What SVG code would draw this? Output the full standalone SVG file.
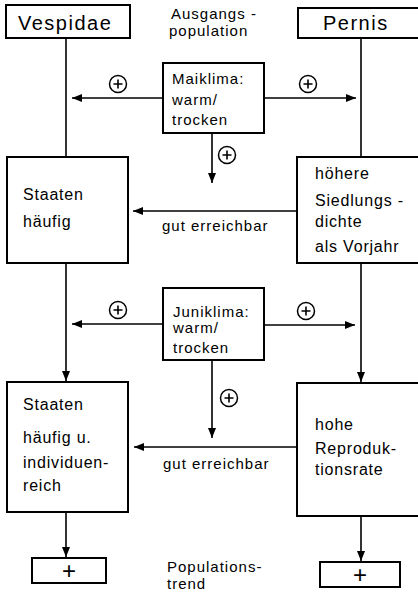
<svg xmlns="http://www.w3.org/2000/svg" width="418" height="599" viewBox="0 0 418 599">
  <style>
    .box { fill: #fff; stroke: #000; stroke-width: 2; }
    .open { fill: #fff; stroke: #000; stroke-width: 2; }
    .ln { fill: none; stroke: #000; stroke-width: 1.6; }
    .t { font-family: "Liberation Sans", Arial, Helvetica, sans-serif; font-size: 15px; letter-spacing: 1px; fill: #000; }
    .n { font-family: "Liberation Sans", Arial, Helvetica, sans-serif; font-size: 16px; letter-spacing: 0.8px; fill: #000; }
    .big { font-family: "Liberation Sans", Arial, Helvetica, sans-serif; font-size: 20px; letter-spacing: 1.5px; fill: #000; }
    .pl { font-family: "Liberation Sans", Arial, Helvetica, sans-serif; font-size: 24px; fill: #000; text-anchor: middle; }
    .circ { fill: #fff; stroke: #000; stroke-width: 1.5; }
  </style>
  <defs>
    <marker id="arrow" markerUnits="userSpaceOnUse" markerWidth="10" markerHeight="10" viewBox="0 0 10 10" refX="10" refY="5" orient="auto">
      <path d="M0,1 L10,5 L0,9 Z" fill="#000"/>
    </marker>
    <g id="plus-sign">
      <circle class="circ" r="8.5"/>
      <path d="M-4.5,0 H4.5 M0,-4.5 V4.5" stroke="#000" stroke-width="1.6"/>
    </g>
  </defs>

  <!-- connectors -->
  <g id="connectors">
    <!-- Vespidae column -->
    <line class="ln" x1="66" y1="38" x2="66" y2="157"/>
    <line class="ln" x1="66" y1="263" x2="66" y2="381" marker-end="url(#arrow)"/>
    <line class="ln" x1="66" y1="512" x2="66" y2="557" marker-end="url(#arrow)"/>
    <!-- Pernis column -->
    <line class="ln" x1="361" y1="38" x2="361" y2="157"/>
    <line class="ln" x1="361" y1="263" x2="361" y2="382" marker-end="url(#arrow)"/>
    <line class="ln" x1="361" y1="516" x2="361" y2="561" marker-end="url(#arrow)"/>
    <!-- May climate -->
    <line class="ln" x1="163" y1="98" x2="72" y2="98" marker-end="url(#arrow)"/>
    <line class="ln" x1="264" y1="98" x2="356" y2="98" marker-end="url(#arrow)"/>
    <line class="ln" x1="212" y1="133" x2="212" y2="183" marker-end="url(#arrow)"/>
    <!-- June climate -->
    <line class="ln" x1="163" y1="324" x2="72" y2="324" marker-end="url(#arrow)"/>
    <line class="ln" x1="264" y1="325" x2="355" y2="325" marker-end="url(#arrow)"/>
    <line class="ln" x1="212" y1="360" x2="212" y2="438" marker-end="url(#arrow)"/>
    <!-- reachability -->
    <line class="ln" x1="297" y1="211" x2="133" y2="211" marker-end="url(#arrow)"/>
    <line class="ln" x1="297" y1="447" x2="134" y2="447" marker-end="url(#arrow)"/>
    <text class="t" x="162" y="231">gut erreichbar</text>
    <text class="t" x="163" y="469">gut erreichbar</text>
    <use href="#plus-sign" x="118" y="84"/>
    <use href="#plus-sign" x="308" y="84"/>
    <use href="#plus-sign" x="227" y="155"/>
    <use href="#plus-sign" x="118" y="310"/>
    <use href="#plus-sign" x="306" y="311"/>
    <use href="#plus-sign" x="229" y="398"/>
  </g>

  <!-- header nodes -->
  <g id="vespidae">
    <rect class="box" x="6" y="5" width="124" height="33"/>
    <text class="big" x="18" y="30">Vespidae</text>
  </g>
  <g id="pernis">
    <path class="open" d="M420,8 H298 V38 H420"/>
    <text class="big" x="323" y="30">Pernis</text>
  </g>
  <g id="ausgangspopulation">
    <text class="t" x="171" y="19">Ausgangs -</text>
    <text class="t" x="169" y="36">population</text>
  </g>

  <g id="maiklima">
    <rect class="box" x="163" y="63" width="101" height="70"/>
    <text class="t" x="172" y="84">Maiklima:</text>
    <text class="t" x="172" y="105">warm/</text>
    <text class="t" x="172" y="125">trocken</text>
  </g>

  <g id="staaten-haeufig">
    <rect class="box" x="7" y="157" width="121" height="106"/>
    <text class="n" x="23" y="200">Staaten</text>
    <text class="n" x="23" y="227">häufig</text>
  </g>

  <g id="siedlungsdichte">
    <path class="open" d="M420,157 H297 V263 H420"/>
    <text class="n" x="315" y="179">höhere</text>
    <text class="n" x="315" y="206">Siedlungs -</text>
    <text class="n" x="315" y="227">dichte</text>
    <text class="n" x="315" y="252">als Vorjahr</text>
  </g>

  <g id="juniklima">
    <rect class="box" x="163" y="288" width="101" height="72"/>
    <text class="t" x="173" y="317">Juniklima:</text>
    <text class="t" x="173" y="333">warm/</text>
    <text class="t" x="173" y="353">trocken</text>
  </g>

  <g id="staaten-individuenreich">
    <rect class="box" x="7" y="382" width="121" height="130"/>
    <text class="n" x="23" y="410">Staaten</text>
    <text class="n" x="23" y="443">häufig u.</text>
    <text class="n" x="23" y="468">individuen-</text>
    <text class="n" x="23" y="491">reich</text>
  </g>

  <g id="reproduktionsrate">
    <path class="open" d="M420,383 H297 V516 H420"/>
    <text class="n" x="315" y="430">hohe</text>
    <text class="n" x="315" y="454">Reproduk-</text>
    <text class="n" x="315" y="475">tionsrate</text>
  </g>

  <g id="trend-vespidae">
    <rect class="box" x="32" y="558" width="74" height="25"/>
    <text class="pl" x="69" y="579">+</text>
  </g>
  <g id="trend-pernis">
    <rect class="box" x="320" y="562" width="80" height="25"/>
    <text class="pl" x="360" y="583">+</text>
  </g>
  <g id="populationstrend">
    <text class="t" x="167" y="572">Populations-</text>
    <text class="t" x="167" y="589">trend</text>
  </g>
</svg>
